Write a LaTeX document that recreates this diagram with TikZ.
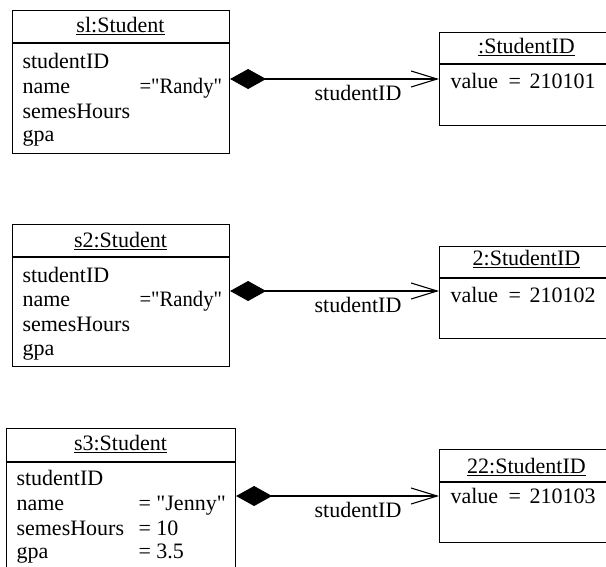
\documentclass[tikz,border=0pt]{standalone}
\usepackage{fontspec}
\newfontfamily\umlfont{Liberation Serif}
\usetikzlibrary{arrows.meta}
\begin{document}
\begin{tikzpicture}[x=1pt,y=-1pt,line width=1.1pt,
  every node/.style={inner sep=0pt,font=\umlfont\fontsize{22}{24}\selectfont},
  objbox/.style={draw,rectangle,anchor=north west,minimum width=#1},
  txt/.style={anchor=base west},
  ttl/.style={anchor=base},
  comp/.style={{Diamond[length=36pt,width=20pt,fill=black]}-{Straight Barb[length=26pt,width=16pt]}},
  rolename/.style={anchor=base}]
\useasboundingbox (0,0) rectangle (606,566);
\clip (0,0) rectangle (606,566);

% ---- s1:Student ----
\node[objbox=217pt,minimum height=143pt] (s1) at (12,10) {};
\draw (s1.west |- 0,43) -- (s1.east |- 0,43);
\node[ttl] (s1t) at (120.5,32) {\underline{sl:Student}};
\node[txt] (s1a) at (22,68) {studentID};
\node[txt] (s1b) at (22,93) {name};
\node[txt] (s1bv) at (139,93) {\scalebox{0.94}[1]{="Randy"}};
\node[txt] (s1c) at (22,118) {semesHours};
\node[txt] (s1d) at (22,141) {gpa};

% ---- :StudentID ----
\node[objbox=175pt,minimum height=93pt] (id1) at (439,32) {};
\draw (id1.west |- 0,64) -- (id1.east |- 0,64);
\node[ttl] (id1t) at (526.5,53) {\underline{:StudentID}};
\node[txt] (id1a) at (450,88) {value};
\node[txt] (id1e) at (508,88) {=};
\node[txt] (id1av) at (529,88) {210101};

% ---- s2:Student ----
\node[objbox=217pt,minimum height=142pt] (s2) at (12,224) {};
\draw (s2.west |- 0,257) -- (s2.east |- 0,257);
\node[ttl] (s2t) at (120.5,247) {\underline{s2:Student}};
\node[txt] (s2a) at (22,282) {studentID};
\node[txt] (s2b) at (22,306) {name};
\node[txt] (s2bv) at (139,306) {\scalebox{0.94}[1]{="Randy"}};
\node[txt] (s2c) at (22,331) {semesHours};
\node[txt] (s2d) at (22,355) {gpa};

% ---- 2:StudentID ----
\node[objbox=175pt,minimum height=92pt] (id2) at (439,246) {};
\draw (id2.west |- 0,278) -- (id2.east |- 0,278);
\node[ttl] (id2t) at (526.5,265) {\underline{2:StudentID}};
\node[txt] (id2a) at (450,302) {value};
\node[txt] (id2e) at (508,302) {=};
\node[txt] (id2av) at (529,302) {210102};

% ---- s3:Student ----
\node[objbox=229pt,minimum height=160pt] (s3) at (6,428) {};
\draw (s3.west |- 0,462) -- (s3.east |- 0,462);
\node[ttl] (s3t) at (120.5,450) {\underline{s3:Student}};
\node[txt] (s3a) at (16,485) {studentID};
\node[txt] (s3b) at (16,510) {name};
\node[txt] (s3bv) at (138,510) {= "Jenny"};
\node[txt] (s3c) at (16,535) {semesHours};
\node[txt] (s3cv) at (138,535) {= 10};
\node[txt] (s3d) at (16,558) {gpa};
\node[txt] (s3dv) at (138,558) {= 3.5};

% ---- 22:StudentID ----
\node[objbox=175pt,minimum height=93pt] (id3) at (439,449) {};
\draw (id3.west |- 0,482) -- (id3.east |- 0,482);
\node[ttl] (id3t) at (526.5,473) {\underline{22:StudentID}};
\node[txt] (id3a) at (450,503) {value};
\node[txt] (id3e) at (508,503) {=};
\node[txt] (id3av) at (529,503) {210103};

% ---- composition links ----
\draw[comp] (s1.east |- 0,79) -- (id1.west |- 0,79);
\node[rolename] (r1) at (358,100) {studentID};
\draw[comp] (s2.east |- 0,291) -- (id2.west |- 0,291);
\node[rolename] (r2) at (358,312) {studentID};
\draw[comp] (s3.east |- 0,496) -- (id3.west |- 0,496);
\node[rolename] (r3) at (358,517) {studentID};
\end{tikzpicture}
\end{document}
